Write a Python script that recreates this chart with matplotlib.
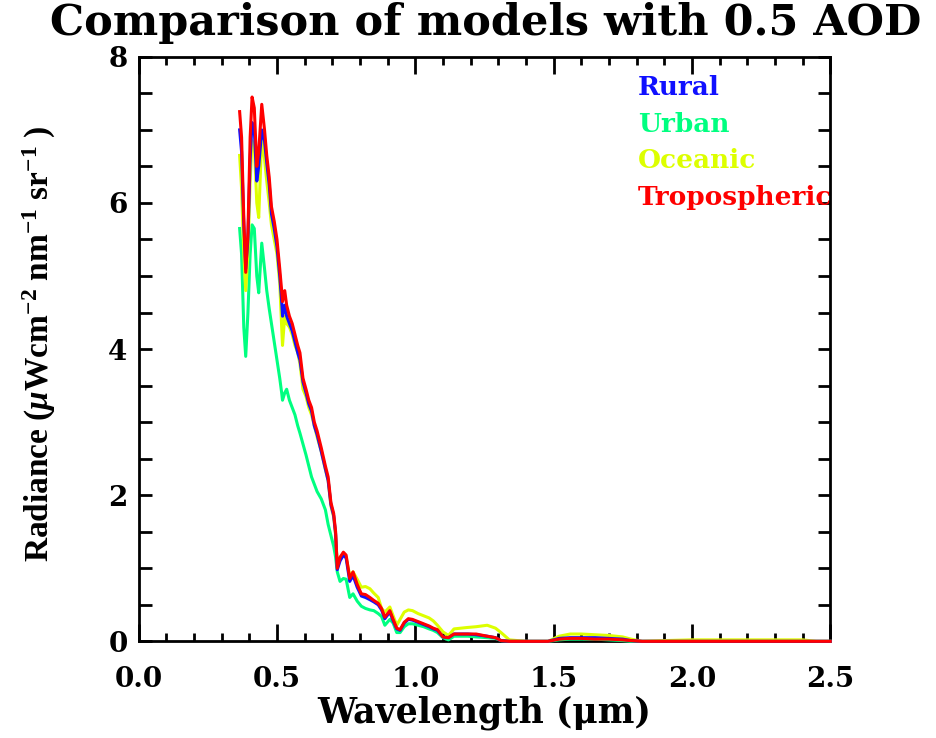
# Libraries
import matplotlib
matplotlib.use("Agg")
import matplotlib.pyplot as plt
from matplotlib.ticker import MultipleLocator

# Fonts: heavy serif; the picture is stretched sideways, so horizontal text
# uses the wider DejaVu Serif and the rotated y label uses Liberation Serif
plt.rcParams['font.family'] = ['DejaVu Serif']
plt.rcParams['font.weight'] = 'bold'
plt.rcParams['mathtext.fontset'] = 'custom'
plt.rcParams['mathtext.rm'] = 'Liberation Serif:bold'
plt.rcParams['mathtext.it'] = 'Liberation Serif:italic:bold'
plt.rcParams['mathtext.bf'] = 'Liberation Serif:bold'

# Wavelength grid (micrometers)
wavelength = [0.365, 0.372, 0.38, 0.387, 0.395, 0.403, 0.41, 0.418, 0.427, 0.434,
              0.445, 0.455, 0.463, 0.472, 0.48, 0.49, 0.50, 0.51, 0.517, 0.52,
              0.528, 0.535, 0.545, 0.555, 0.565, 0.575, 0.583, 0.594, 0.605, 0.615,
              0.625, 0.635, 0.645, 0.66, 0.675, 0.685, 0.695, 0.705, 0.712, 0.718,
              0.728, 0.74, 0.75, 0.763, 0.775, 0.79, 0.805, 0.82, 0.836, 0.85,
              0.866, 0.878, 0.89, 0.908, 0.92, 0.933, 0.945, 0.96, 0.975, 0.99,
              1.01, 1.03, 1.05, 1.065, 1.08, 1.1, 1.12, 1.14, 1.19, 1.22,
              1.26, 1.29, 1.31, 1.34, 1.40, 1.48, 1.52, 1.56, 1.60, 1.65,
              1.70, 1.75, 1.78, 1.82, 1.90, 2.0, 2.1, 2.2, 2.3, 2.4, 2.45, 2.5]

# Radiance for each aerosol model
rural = [7.0, 6.7, 5.7, 5.1, 5.5, 6.6, 7.1, 7.0, 6.3, 6.5,
         7.0, 6.85, 6.55, 6.25, 5.85, 5.65, 5.4, 5.0, 4.65, 4.45,
         4.6, 4.45, 4.35, 4.25, 4.1, 3.95, 3.85, 3.55, 3.4, 3.25,
         3.15, 2.95, 2.83, 2.6, 2.36, 2.2, 1.87, 1.72, 1.47, 0.98,
         1.1, 1.18, 1.14, 0.82, 0.9, 0.74, 0.62, 0.6, 0.57, 0.54,
         0.5, 0.43, 0.31, 0.4, 0.28, 0.17, 0.15, 0.25, 0.3, 0.29,
         0.26, 0.23, 0.2, 0.17, 0.15, 0.06, 0.05, 0.1, 0.1, 0.09,
         0.07, 0.05, 0.01, 0.0, 0.0, 0.0, 0.04, 0.05, 0.05, 0.05,
         0.04, 0.03, 0.01, 0.0, 0.0, 0.0, 0.0, 0.0, 0.0, 0.0, 0.0, 0.0]

urban = [5.65, 5.3, 4.3, 3.9, 4.5, 5.3, 5.7, 5.65, 5.0, 4.77,
         5.45, 5.1, 4.8, 4.55, 4.35, 4.1, 3.85, 3.6, 3.4, 3.3,
         3.4, 3.45, 3.3, 3.2, 3.1, 2.95, 2.85, 2.7, 2.55, 2.4,
         2.25, 2.15, 2.05, 1.95, 1.8, 1.6, 1.45, 1.3, 1.15, 0.95,
         0.82, 0.86, 0.85, 0.6, 0.65, 0.55, 0.48, 0.45, 0.43, 0.42,
         0.38, 0.34, 0.22, 0.3, 0.25, 0.12, 0.12, 0.2, 0.24, 0.24,
         0.22, 0.2, 0.17, 0.15, 0.12, 0.05, 0.02, 0.07, 0.07, 0.06,
         0.05, 0.04, 0.01, 0.0, 0.0, 0.0, 0.02, 0.03, 0.03, 0.03,
         0.02, 0.01, 0.0, 0.0, 0.0, 0.0, 0.0, 0.0, 0.0, 0.0, 0.0, 0.0]

oceanic = [6.65, 6.2, 5.3, 4.8, 5.3, 6.3, 6.85, 6.8, 6.0, 5.8,
           6.9, 6.6, 6.3, 6.0, 5.7, 5.5, 5.3, 4.9, 4.3, 4.05,
           4.45, 4.35, 4.3, 4.2, 4.05, 3.95, 3.8, 3.45, 3.35, 3.2,
           3.1, 2.95, 2.8, 2.6, 2.35, 2.2, 1.85, 1.7, 1.45, 1.05,
           1.15, 1.2, 1.15, 0.9, 0.95, 0.85, 0.74, 0.75, 0.72, 0.66,
           0.6, 0.45, 0.4, 0.47, 0.35, 0.22, 0.3, 0.4, 0.43, 0.42,
           0.38, 0.35, 0.32, 0.28, 0.22, 0.13, 0.08, 0.17, 0.19, 0.2,
           0.22, 0.18, 0.12, 0.02, 0.0, 0.0, 0.07, 0.1, 0.1, 0.09,
           0.08, 0.06, 0.03, 0.0, 0.01, 0.02, 0.02, 0.02, 0.02, 0.02, 0.0, 0.0]

tropospheric = [7.25, 6.9, 5.8, 5.05, 5.6, 6.9, 7.45, 7.3, 6.5, 6.7,
                7.35, 7.0, 6.65, 6.35, 5.95, 5.75, 5.5, 5.1, 4.8, 4.65,
                4.8, 4.6, 4.45, 4.35, 4.2, 4.05, 3.95, 3.6, 3.45, 3.3,
                3.2, 3.0, 2.88, 2.65, 2.4, 2.25, 1.9, 1.75, 1.5, 1.0,
                1.15, 1.22, 1.18, 0.86, 0.95, 0.78, 0.65, 0.64, 0.6, 0.56,
                0.52, 0.45, 0.33, 0.42, 0.3, 0.18, 0.16, 0.26, 0.31, 0.3,
                0.27, 0.24, 0.21, 0.18, 0.16, 0.06, 0.05, 0.1, 0.1, 0.1,
                0.07, 0.05, 0.01, 0.0, 0.0, 0.0, 0.03, 0.04, 0.04, 0.03,
                0.03, 0.02, 0.01, 0.0, 0.0, 0.0, 0.0, 0.0, 0.0, 0.0, 0.0, 0.0]

model_names = ['Rural', 'Urban', 'Oceanic', 'Tropospheric']
model_colors = ['#1010ff', '#00ff80', '#ddff00', '#ff0000']

# Figure and axes box
fig = plt.figure(figsize=(9.37, 7.38), dpi=100)
ax = fig.add_axes([0.148, 0.131, 0.738, 0.792])

# Draw the four spectra (urban and oceanic below, tropospheric on top)
ax.plot(wavelength, urban, color=model_colors[1], lw=2.2, clip_on=False, zorder=3)
ax.plot(wavelength, oceanic, color=model_colors[2], lw=2.2, clip_on=False, zorder=3)
ax.plot(wavelength, rural, color=model_colors[0], lw=2.2, clip_on=False, zorder=3)
ax.plot(wavelength, tropospheric, color=model_colors[3], lw=2.2, clip_on=False, zorder=3)

# Legend as coloured text in the upper right corner
for i, name in enumerate(model_names):
    ax.text(0.722, 0.948 - i * 0.063, name, transform=ax.transAxes,
            color=model_colors[i], fontsize=19, fontweight='bold',
            va='center', ha='left', zorder=2)

# Axis ranges and ticks (IDL style: inward, on all four sides)
ax.set_xlim(0, 2.5)
ax.set_ylim(0, 8)
ax.xaxis.set_major_locator(MultipleLocator(0.5))
ax.xaxis.set_minor_locator(MultipleLocator(0.1))
ax.yaxis.set_major_locator(MultipleLocator(2))
ax.yaxis.set_minor_locator(MultipleLocator(0.5))
ax.set_xticks([0, 0.5, 1.0, 1.5, 2.0, 2.5])
ax.set_xticklabels(['0.0', '0.5', '1.0', '1.5', '2.0', '2.5'])
ax.tick_params(axis='both', which='both', direction='in', top=True, right=True,
               width=2, labelsize=20, colors='black')
ax.tick_params(axis='x', which='major', length=12, pad=18)
ax.tick_params(axis='x', which='minor', length=6)
ax.tick_params(axis='y', which='major', length=9, pad=8)
ax.tick_params(axis='y', which='minor', length=9)
for spine in ax.spines.values():
    spine.set_linewidth(2)
    spine.set_zorder(2.5)

# Labels and title
ax.set_xlabel('Wavelength (\u03bcm)', fontsize=25, fontweight='bold')
ax.xaxis.set_label_coords(0.5, -0.093)
ax.set_ylabel(r'Radiance ($\mu$Wcm$^{-2}$ nm$^{-1}$ sr$^{-1}$ )', fontsize=24,
              fontweight='bold', fontfamily='Liberation Serif')
ax.yaxis.set_label_coords(-0.116, 0.51)
fig.text(0.518, 0.969, 'Comparison of models with 0.5 AOD', ha='center', va='center',
         fontsize=31, fontweight='bold')

plt.savefig('out.png', dpi=100)
